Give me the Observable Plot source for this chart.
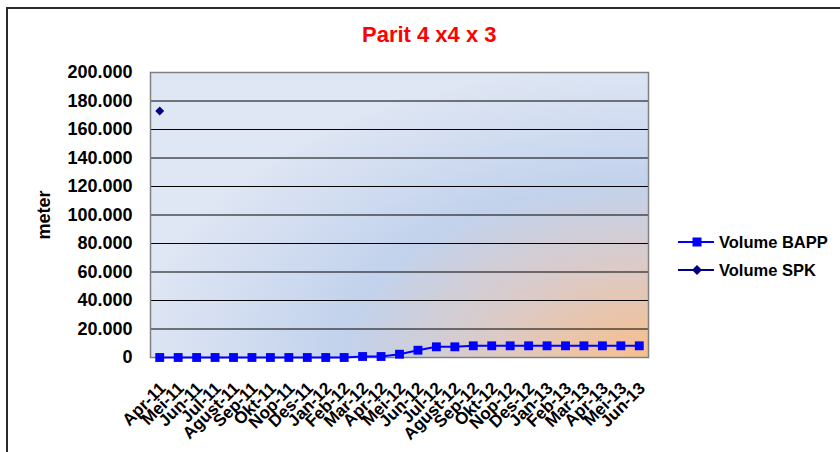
<!DOCTYPE html>
<html>
<head>
<meta charset="utf-8">
<script src="https://cdn.jsdelivr.net/npm/d3@7"></script>
<script src="https://cdn.jsdelivr.net/npm/@observablehq/plot@0.6"></script>
<style>
  body { margin: 0; background: #fff; }
  #wrap { position: relative; width: 840px; height: 452px; overflow: hidden; background: #fff;
          font-family: "Liberation Sans", Arial, sans-serif; font-weight: bold; }
  #border { position: absolute; left: 6px; top: 7px; width: 1000px; height: 1000px;
            border-top: 2px solid #2a2a2a; border-left: 2px solid #2a2a2a; box-sizing: border-box; }
  #title { position: absolute; left: 362px; top: 24px; font-size: 22px; line-height: 22px; color: #ff0000; white-space: nowrap; }
  #chart { position: absolute; left: 0; top: 0; }
  .leg { position: absolute; left: 678px; height: 20px; display: flex; align-items: center; font-size: 16.5px; white-space: nowrap; color: #000; }
  .leg svg { margin-right: 5px; }
</style>
</head>
<body>
<div id="wrap">
  <div id="border"></div>
  <div id="title">Parit 4 x4 x 3</div>
  <div id="chart"></div>
  <div class="leg" style="top:232px">
    <svg width="36" height="12"><line x1="0" y1="6" x2="36" y2="6" stroke="#0000ff" stroke-width="2"/><rect x="14.5" y="1.5" width="9" height="9" fill="#0000ff"/></svg>Volume BAPP
  </div>
  <div class="leg" style="top:260px">
    <svg width="36" height="12"><line x1="0" y1="6" x2="36" y2="6" stroke="#000080" stroke-width="2"/><polygon points="19,1 24,6 19,11 14,6" fill="#000080"/></svg>Volume SPK
  </div>
</div>
<script>
const months = ["Apr-11","Mei-11","Jun-11","Jul-11","Agust-11","Sep-11","Okt-11","Nop-11","Des-11","Jan-12","Feb-12","Mar-12","Apr-12","Mei-12","Jun-12","Jul-12","Agust-12","Sep-12","Okt-12","Nop-12","Des-12","Jan-13","Feb-13","Mar-13","Apr-13","Mei-13","Jun-13"];
const volumeBAPP = [0,0,0,0,0,0,0,0,0,0,0,700,700,2300,5100,7500,7500,8200,8200,8200,8200,8200,8200,8200,8200,8200,8200];
const volumeSPK = [173000,null,null,null,null,null,null,null,null,null,null,null,null,null,null,null,null,null,null,null,null,null,null,null,null,null,null];
const yTicks = [0,20000,40000,60000,80000,100000,120000,140000,160000,180000,200000];

const fmt = d3.formatLocale({decimal: ",", thousands: ".", grouping: [3], currency: ["", ""]}).format(",");
const data = months.map((m, i) => ({month: m, bapp: volumeBAPP[i], spk: volumeSPK[i]}));

const chart = Plot.plot({
  width: 840, height: 452,
  marginLeft: 150, marginRight: 192, marginTop: 72, marginBottom: 95,
  style: {fontFamily: "'Liberation Sans', Arial, sans-serif", fontWeight: "bold", background: "transparent", color: "#000", overflow: "visible"},
  x: {type: "point", domain: months, padding: 0.5, round: false},
  y: {domain: [0, 200000]},
  marks: [
    Plot.frame({fill: "url(#bgGrad)"}),
    Plot.gridY(yTicks.filter(v => v > 0 && v < 200000), {stroke: "#000", strokeOpacity: 1, strokeWidth: 1}),
    Plot.frame({stroke: "#808080", strokeWidth: 1.5}),
    Plot.axisY(yTicks, {tickSize: 0, tickPadding: 18, tickFormat: fmt, fontSize: 18, label: "meter", labelAnchor: "center", labelOffset: 113, labelArrow: false}),
    Plot.axisX({tickSize: 0, tickPadding: 28, dx: 3, tickRotate: -45, fontSize: 17, label: null}),
    Plot.line(data, {x: "month", y: "bapp", stroke: "#0000ff", strokeWidth: 2}),
    Plot.dot(data, {x: "month", y: "bapp", symbol: "square", fill: "#0000ff", r: 5}),
    Plot.dot(data.filter(d => d.spk != null), {x: "month", y: "spk", symbol: "diamond2", fill: "#000080", r: 4})
  ]
});

const ns = "http://www.w3.org/2000/svg";
const defs = document.createElementNS(ns, "defs");
defs.innerHTML = `<radialGradient id="bgGrad" cx="1" cy="1" r="1.05">
  <stop offset="0" stop-color="#f7bf8c"/>
  <stop offset="0.3" stop-color="#dccac6"/>
  <stop offset="0.58" stop-color="#c2d2ec"/>
  <stop offset="1" stop-color="#e0e7f4"/>
</radialGradient>`;
chart.insertBefore(defs, chart.firstChild);
document.getElementById("chart").appendChild(chart);
</script>
</body>
</html>
